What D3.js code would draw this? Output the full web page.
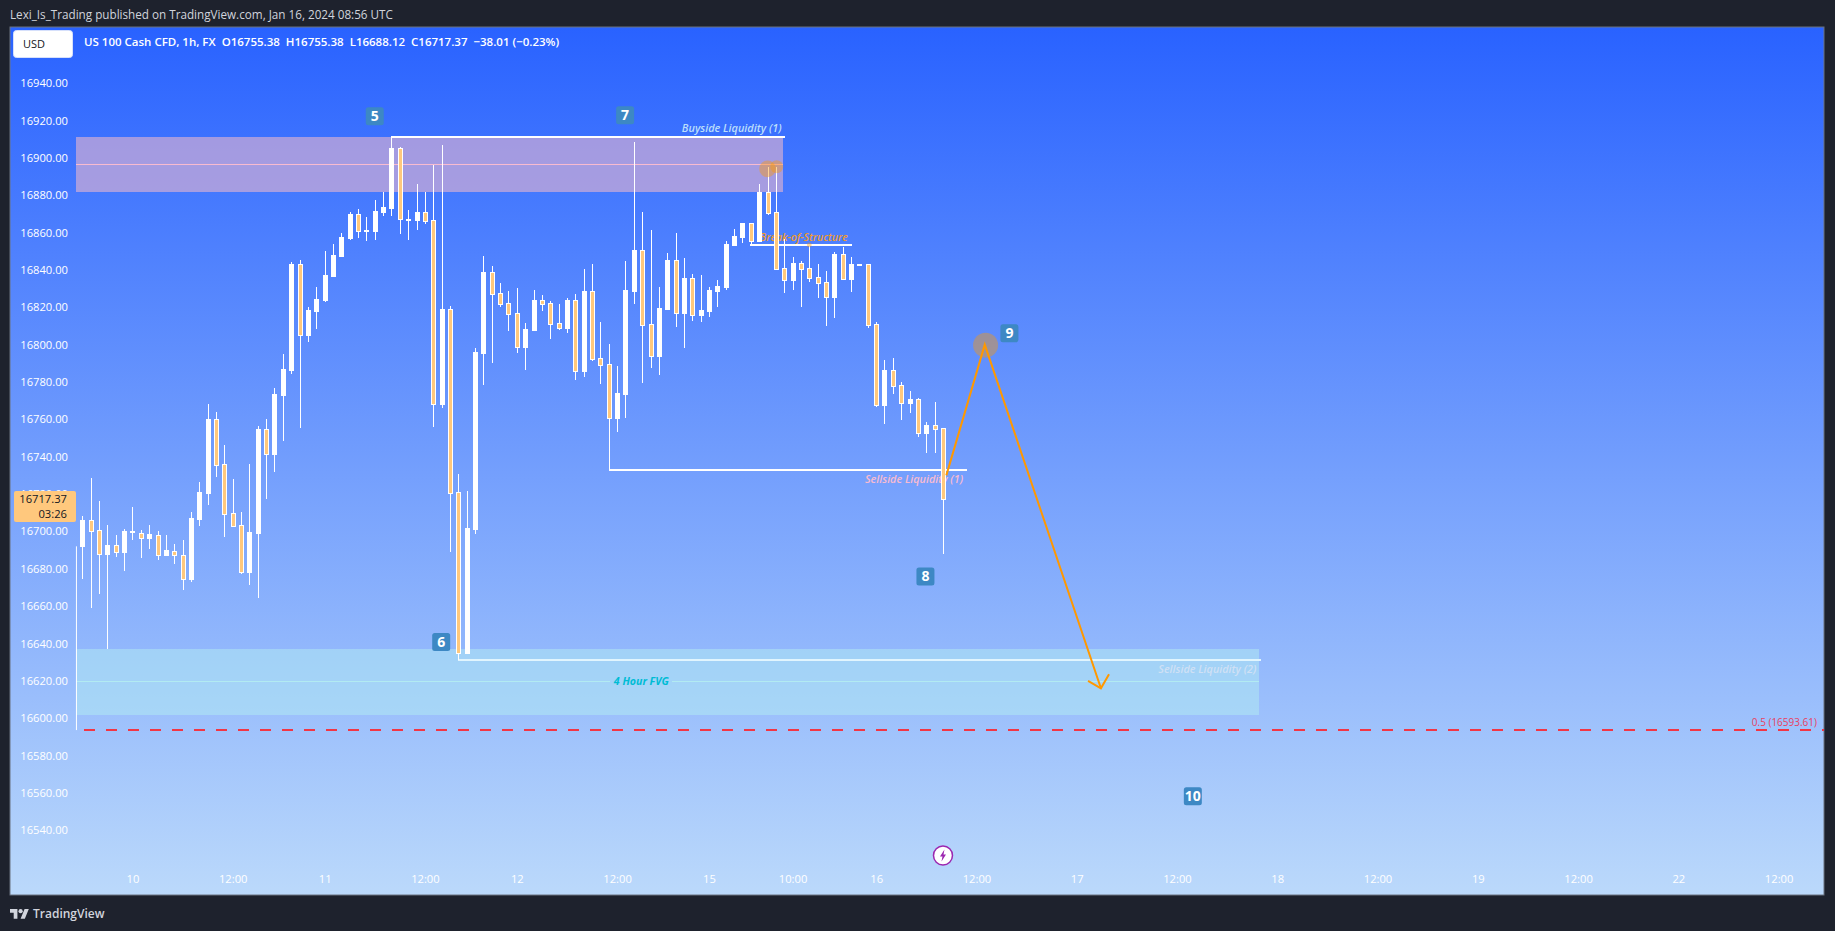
<!DOCTYPE html>
<html><head><meta charset="utf-8">
<script src="https://cdn.jsdelivr.net/npm/d3@7"></script>
<style>
html,body{margin:0;padding:0;background:#1e222d;overflow:hidden}
svg{display:block}
text{font-family:"Open Sans","Liberation Sans",sans-serif}
</style></head><body><div id="chart"></div>
<script>
const opens=[16692,16706,16700.6,16687.8,16692.6,16688.8,16699.8,16699.4,16696.3,16698.3,16687.2,16689.7,16687.6,16674.4,16706.5,16720.4,16760,16736,16709.7,16703.3,16678.1,16699,16754.7,16741.3,16772.9,16786.3,16843,16805,16817.9,16823.8,16836.6,16847.4,16857,16869.8,16860.9,16860.7,16870.9,16873,16905.2,16867.2,16866.6,16870.9,16866.6,16768.1,16819,16720.9,16634.9,16701.2,16795.4,16838.8,16827.5,16822.2,16816.8,16798.6,16807.7,16823.8,16822.2,16811.5,16808.8,16823.8,16785.8,16828.6,16792.7,16789.5,16760.6,16773.5,16828.6,16850.6,16810.9,16793.8,16819,16845.2,16816.8,16835.6,16815.8,16817.9,16828.6,16830.7,16853.2,16857.5,16865,16855.4,16881.6,16870.9,16840.9,16834.5,16843.6,16840.9,16836.1,16833.4,16825.4,16848.4,16835,16842.9,16843,16810.9,16767.6,16786.3,16778.3,16768.6,16770.8,16752.6,16756.9,16755.38];
const highs=[16708.1,16728.5,16716.2,16703.3,16697.9,16701.2,16712.9,16700.6,16703.3,16700.1,16697.9,16693.1,16695.3,16710.2,16726.3,16768.1,16763.8,16746.1,16727.9,16710.2,16736,16756.3,16760,16776.7,16794.9,16844,16845.2,16820.2,16830.9,16850.2,16853.8,16860,16870.9,16872.5,16868.2,16877.3,16881.6,16911.1,16905.7,16872,16885.9,16881.6,16896.1,16906.8,16820.6,16730.6,16721.5,16798.1,16847.4,16842,16832.9,16828.6,16830.2,16811.5,16829.1,16826.5,16823.3,16821.6,16824.9,16827,16840.4,16843,16812,16800.2,16788.4,16844.7,16908.4,16870.9,16861.3,16830.7,16849,16859.7,16846.3,16837.7,16837.2,16830.7,16834.5,16855.4,16861.8,16865,16865,16885.9,16895,16895,16856.5,16846.8,16844.7,16853.8,16843,16839.3,16849.5,16852.2,16846.8,16843,16843,16812,16791.6,16792.7,16779.9,16775,16771.3,16758.5,16769.2,16755.38];
const lows=[16674.4,16659,16666.5,16637,16686.3,16678.8,16695.3,16685.8,16690.6,16684.7,16686.7,16682.6,16668.6,16672.8,16702.8,16714,16729.2,16696.9,16702.2,16677,16671.2,16664.2,16717.2,16731.7,16748.3,16784.2,16755.2,16801.3,16808.3,16822.9,16836.6,16846.7,16855.9,16857,16855.4,16855.9,16868.8,16868.8,16859.1,16855.9,16861.3,16864.5,16755.8,16765.9,16688.8,16631,16634.2,16698.5,16778.3,16790,16820,16807.2,16795.4,16786.3,16807.7,16817.9,16802.9,16807.7,16806.1,16780.9,16782.6,16791.1,16778.8,16732.7,16753.1,16760.6,16821.6,16779.3,16787.4,16783.6,16819,16809.3,16798.1,16812.5,16812,16814.7,16820,16829.1,16853.2,16854.3,16853.8,16855.4,16869.3,16840.4,16827.5,16829.1,16820,16833.4,16824.9,16809.9,16814.1,16834.5,16828,16842.9,16808.8,16766.5,16757.4,16773.5,16759.5,16763.3,16750.4,16741.9,16741.9,16688.12];
const closes=[16706,16700.2,16687.9,16692.6,16689,16700.1,16700.1,16696.5,16698.5,16687.4,16689.9,16687.4,16674.5,16707,16720.9,16760,16735.6,16709.4,16702.8,16678.1,16699.6,16754.7,16741.3,16773.5,16786.8,16843,16805.2,16818.4,16824.3,16837.2,16847.9,16857.5,16869.8,16860.9,16861.3,16871.4,16873.6,16905.2,16867.3,16867.5,16870.9,16866.1,16768.1,16819,16720.6,16634.9,16701.7,16795.9,16838.8,16827,16821.6,16816.3,16798.6,16808.3,16823.8,16821.6,16810.9,16808.8,16823.8,16785.8,16828.6,16792.2,16789,16760.8,16773.9,16829.1,16850.6,16810.4,16793.8,16819.5,16845.2,16816.8,16835.6,16815.8,16818.4,16829.1,16831.3,16853.8,16858.1,16865,16855.4,16881.6,16870.4,16840.4,16834.5,16843.6,16840.4,16835.6,16832.9,16825.4,16848.4,16835,16843,16843,16810.4,16767.6,16786.3,16777.7,16768.6,16770.8,16752.6,16756.9,16754.7,16717.37];

const priceTicks=[16940,16920,16900,16880,16860,16840,16820,16800,16780,16760,16740,16720,16700,16680,16660,16640,16620,16600,16580,16560,16540];
const timeTickIndex=[6,18,29,41,52,64,75,85,95,107,119,131,143,155,167,179,191,203];
const timeTickLabels=["10","12:00","11","12:00","12","12:00","15","10:00","16","12:00","17","12:00","18","12:00","19","12:00","22","12:00"];

const W=1835,H=931;
const x=d3.scaleLinear().domain([0,203]).range([82.3,1778.6]);
const y=d3.scaleLinear().domain([16940,16540]).range([83.2,830.2]);
const X0=10,Y0=27,X1=1824,Y1=895;

const svg=d3.select("#chart").append("svg").attr("width",W).attr("height",H);
const defs=svg.append("defs");
const g=defs.append("linearGradient").attr("id","bg").attr("x1",0).attr("x2",0).attr("y1",0).attr("y2",1);
g.append("stop").attr("offset","0%").attr("stop-color","#2962ff");
g.append("stop").attr("offset","100%").attr("stop-color","#bbd9fb");

svg.append("text").attr("x",10).attr("y",19).attr("fill","#d1d4dc").attr("font-size",11.7).text("Lexi_Is_Trading published on TradingView.com, Jan 16, 2024 08:56 UTC");
svg.append("rect").attr("x",X0).attr("y",Y0).attr("width",X1-X0).attr("height",Y1-Y0).attr("fill","url(#bg)").attr("stroke","#6b7280").attr("stroke-width",1);

// zones
const zoneTop={i0:-0.75,i1:83.8,p0:16911.1,p1:16881.6,mid:16896.3};
const zoneFvg={i0:-0.7,i1:140.8,p0:16636.8,p1:16601.5,mid:16619.8};
function rectZone(z,fill){svg.append("rect").attr("x",x(z.i0)).attr("width",x(z.i1)-x(z.i0)).attr("y",y(z.p0)).attr("height",y(z.p1)-y(z.p0)).attr("fill",fill).attr("shape-rendering","crispEdges");}
rectZone(zoneTop,"rgba(248,187,200,0.55)");
rectZone(zoneFvg,"rgba(178,235,242,0.5)");
svg.append("line").attr("x1",x(zoneTop.i0)).attr("x2",x(zoneTop.i1)+0.5).attr("y1",y(zoneTop.mid)).attr("y2",y(zoneTop.mid)).attr("stroke","#f8bbd0").attr("stroke-width",1).attr("shape-rendering","crispEdges");
svg.append("line").attr("x1",x(zoneFvg.i0)).attr("x2",x(zoneFvg.i1)+0.5).attr("y1",y(zoneFvg.mid)).attr("y2",y(zoneFvg.mid)).attr("stroke","#b2ebf2").attr("stroke-width",1).attr("shape-rendering","crispEdges");
svg.append("rect").attr("x",610).attr("y",y(zoneFvg.mid)-3).attr("width",62).attr("height",6).attr("fill","#a3d4f8");
svg.append("text").attr("x",x(66.9)).attr("y",y(zoneFvg.mid)+3.5).attr("text-anchor","middle").attr("font-size",10.6).attr("font-style","italic").attr("font-weight",700).attr("fill","#00bcd4").text("4 Hour FVG");

// fib level
const fibPrice=16593.61;
svg.append("line").attr("x1",x(-0.7)).attr("x2",x(-0.7)).attr("y1",y(16692)).attr("y2",y(fibPrice)).attr("stroke","#fff").attr("stroke-width",1);
svg.append("line").attr("x1",x(0.2)).attr("x2",X1).attr("y1",y(fibPrice)).attr("y2",y(fibPrice)).attr("stroke","#f23645").attr("stroke-width",2).attr("stroke-dasharray","11 11").attr("shape-rendering","crispEdges");
svg.append("text").attr("x",1817).attr("y",y(fibPrice)-4).attr("text-anchor","end").attr("font-size",10).attr("fill","#e8405f").text("0.5 (16593.61)");

// liquidity lines and labels sit behind the candles
const liq=[{i0:37,i1:84.1,p:16911.1,col:"#fff"},{i0:79.9,i1:92.1,p:16853.4,col:"#fff"},{i0:63,i1:105.9,p:16732.7,col:"#fff"},{i0:45,i1:141,p:16631,col:"#e1f5fe"}];
liq.forEach(l=>svg.append("line").attr("x1",x(l.i0)).attr("x2",x(l.i1)).attr("y1",y(l.p)).attr("y2",y(l.p)).attr("stroke",l.col).attr("stroke-width",2).attr("shape-rendering","crispEdges"));
const liqLabels=[
 {t:"Buyside Liquidity (1)",i:83.7,p:16915.6,col:"#bbdefb",a:"end",s:10.9},
 {t:"Break-of-Structure",i:91.6,p:16857.4,col:"#ef9a2e",a:"end",s:10.4},
 {t:"Sellside Liquidity (1)",i:105.4,p:16728,col:"#f8bbd0",a:"end",s:10.8},
 {t:"Sellside Liquidity (2)",i:140.5,p:16626.3,col:"#cfe0f5",a:"end",s:10.8}];
liqLabels.forEach(l=>svg.append("text").attr("x",x(l.i)).attr("y",y(l.p)+3.5).attr("text-anchor",l.a).attr("font-size",l.s).attr("font-style","italic").attr("font-weight",600).attr("fill",l.col).text(l.t));

// candles
const idx=d3.range(opens.length);
const bw=4;
const c=svg.append("g").attr("shape-rendering","crispEdges");
c.selectAll("line").data(idx).join("line")
  .attr("x1",i=>Math.round(x(i))+.5).attr("x2",i=>Math.round(x(i))+.5)
  .attr("y1",i=>y(highs[i])).attr("y2",i=>y(lows[i]))
  .attr("stroke","#fff").attr("stroke-width",1);
c.selectAll("rect").data(idx).join("rect")
  .attr("x",i=>Math.round(x(i))-1.5)
  .attr("width",bw)
  .attr("y",i=>Math.round(y(Math.max(opens[i],closes[i])))+.5)
  .attr("height",i=>Math.max(1,Math.round(Math.abs(y(opens[i])-y(closes[i])))))
  .attr("fill",i=>closes[i]>=opens[i]?"#fff":"#ffc87d")
  .attr("stroke","#fff").attr("stroke-width",1);

// highlight circles
const dots=[{i:82,p:16894.1,r:8.3},{i:83.1,p:16895.3,r:6.5},{i:87,p:16853.4,r:2.4},{i:108.1,p:16799.7,r:12.5}];
svg.selectAll("circle.hl").data(dots).join("circle").attr("class","hl").attr("cx",d=>x(d.i)).attr("cy",d=>y(d.p)).attr("r",d=>d.r).attr("fill","rgba(255,152,0,0.4)");

// projection
const pathIdx=[103.4,108,121.9];
const pathPrice=[16730,16800,16616];
const headIdx=[120.36,121.9,122.87];
const headPrice=[16619.9,16616,16623.5];
const line=d3.line().x(d=>x(d[0])).y(d=>y(d[1]));
svg.append("path").attr("d",line(d3.zip(pathIdx,pathPrice))).attr("fill","none").attr("stroke","#ff9800").attr("stroke-width",2);
svg.append("path").attr("d",line(d3.zip(headIdx,headPrice))).attr("fill","none").attr("stroke","#ff9800").attr("stroke-width",2);

// badges
const badgeText=["5","6","7","8","9","10"];
const badgeIdx=[35,42.95,64.96,100.9,110.95,132.9];
const badgePrice=[16922.3,16640.8,16922.9,16675.9,16806.1,16558.2];
badgeText.forEach((t,k)=>{
 const bx=x(badgeIdx[k]),by=y(badgePrice[k]);
 svg.append("rect").attr("x",bx-9).attr("y",by-9).attr("width",18).attr("height",18).attr("rx",2.5).attr("fill","#3d88c4");
 svg.append("text").attr("x",bx).attr("y",by+5).attr("text-anchor","middle").attr("font-size",14).attr("font-weight",700).attr("fill","#fff").text(t);
});

// price axis
const ya=svg.append("g").attr("transform","translate(68,0)").call(d3.axisLeft(y).tickValues(priceTicks).tickFormat(d=>d.toFixed(2)).tickSize(0).tickPadding(0));
ya.select(".domain").remove();
ya.selectAll("text").attr("fill","#fff").attr("font-size",11.2).attr("font-family",'"Open Sans"');

// time axis
const xa=svg.append("g").attr("transform","translate(0,875)").call(d3.axisBottom(x).tickValues(timeTickIndex).tickFormat((d,i)=>timeTickLabels[i]).tickSize(0).tickPadding(0));
xa.select(".domain").remove();
xa.selectAll("text").attr("fill","#fff").attr("font-size",11.2).attr("font-family",'"Open Sans"');

// USD button + legend
svg.append("rect").attr("x",13.5).attr("y",30.5).attr("width",59).attr("height",27).attr("rx",3).attr("fill","#fff").attr("stroke","#d6e0fb");
svg.append("text").attr("x",23).attr("y",48).attr("font-size",11).attr("fill","#131722").text("USD");
svg.append("text").attr("x",84).attr("y",46).attr("font-size",11.5).attr("font-weight",600).attr("fill","#fff").attr("xml:space","preserve").style("white-space","pre").text("US 100 Cash CFD, 1h, FX  O16755.38  H16755.38  L16688.12  C16717.37  −38.01 (−0.23%)");

// last price tag
svg.append("rect").attr("x",14).attr("y",491).attr("width",62).attr("height",31).attr("rx",2).attr("fill","#ffc87d");
svg.append("text").attr("x",67).attr("y",503).attr("text-anchor","end").attr("font-size",11.2).attr("fill","#131722").text("16717.37");
svg.append("text").attr("x",67).attr("y",518).attr("text-anchor","end").attr("font-size",11.2).attr("fill","#131722").text("03:26");

// lightning badge
const lb=svg.append("g").attr("transform",`translate(${x(103)},855.5)`);
lb.append("circle").attr("r",9.5).attr("fill","#fff").attr("stroke","#9c27b0").attr("stroke-width",1.5);
lb.append("path").attr("d","M1.5,-6L-3,1H-0.5L-1.5,6L3,-1H0.5Z").attr("fill","#9c27b0");

// logo
const lg=svg.append("g").attr("transform","translate(10,907) scale(0.53)");
lg.append("path").attr("d","M14 22H7V11H0V4h14v18zM28 22h-8l7.5-18h8L28 22z").attr("fill","#d1d4dc");
lg.append("circle").attr("cx",20).attr("cy",8).attr("r",4).attr("fill","#d1d4dc");
svg.append("text").attr("x",33).attr("y",918).attr("font-size",12).attr("font-weight",600).attr("fill","#d1d4dc").text("TradingView");
</script></body></html>
